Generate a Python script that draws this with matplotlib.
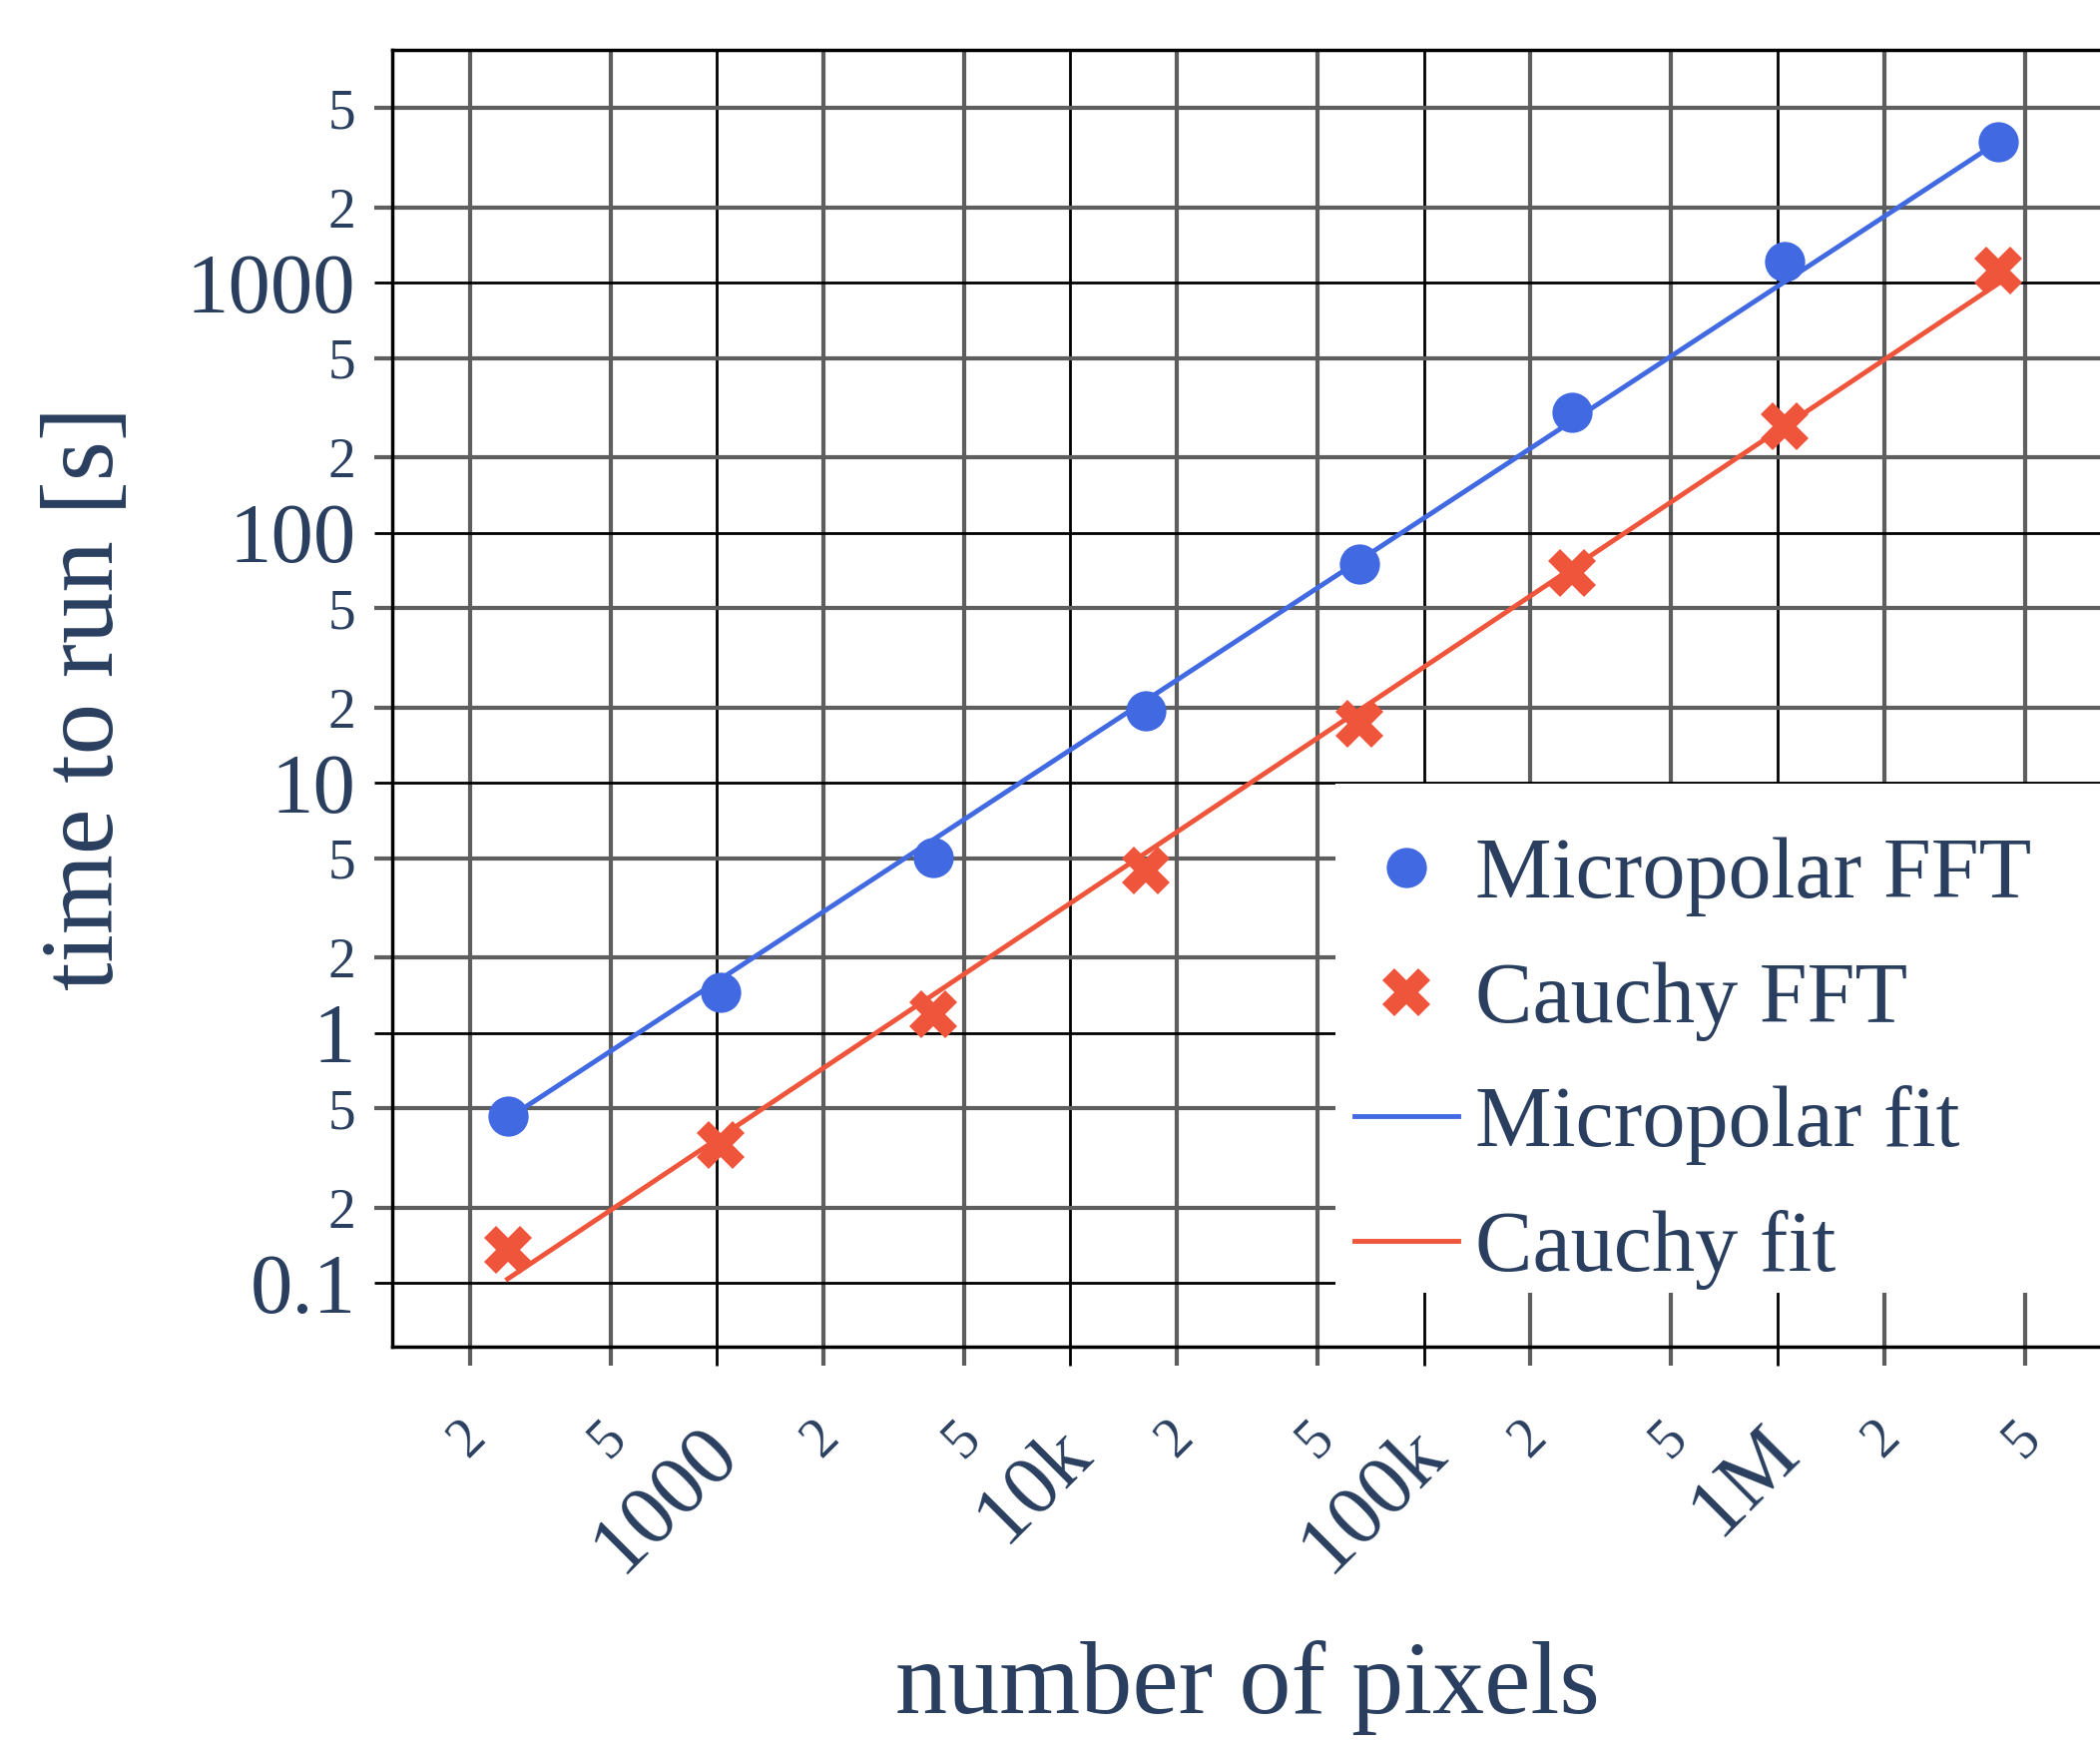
import matplotlib
matplotlib.use("Agg")
import matplotlib.pyplot as plt
from matplotlib.ticker import FixedLocator, NullFormatter, FixedFormatter
from matplotlib.transforms import ScaledTranslation
from matplotlib.patches import Rectangle

# ------------------------------------------------------------
# Data
# ------------------------------------------------------------
n_pixels = [256, 1024, 4096, 16384, 65536, 262144, 1048576, 4194304]
micropolar_fft = [0.467, 1.45, 5.05, 19.4, 75, 302, 1219, 3650]
cauchy_fft = [0.136, 0.356, 1.19, 4.46, 17.3, 68.9, 267, 1117]

# fit lines are straight in log-log, so two end points each
fit_x = [256, 4194304]
micropolar_fit = [0.455, 3650]
cauchy_fit = [0.104, 990]

x_major_ticks = [1e3, 1e4, 1e5, 1e6]
x_major_labels = ["1000", "10k", "100k", "1M"]
x_minor_ticks = [200, 500, 2e3, 5e3, 2e4, 5e4, 2e5, 5e5, 2e6, 5e6]
x_minor_labels = ["2", "5"] * 5

y_major_ticks = [0.1, 1, 10, 100, 1000]
y_major_labels = ["0.1", "1", "10", "100", "1000"]
y_minor_ticks = [0.2, 0.5, 2, 5, 20, 50, 200, 500, 2000, 5000]
y_minor_labels = ["2", "5"] * 5

# ------------------------------------------------------------
# Style
# ------------------------------------------------------------
plt.rcParams['font.family'] = ['Liberation Serif', 'DejaVu Serif']
text_color = "#2a3f5f"
blue = "#4169e1"
red = "#ef553b"
minor_grey = "#5e5e5e"

fig = plt.figure(figsize=(21.04, 17.43), dpi=100)
ax = fig.add_axes([0.1869, 0.2263, 0.828, 0.7452])
ax.set_xscale("log")
ax.set_yscale("log")
ax.set_xlim(121, 1e7)
ax.set_ylim(0.056, 8550)

# markers
ax.plot(n_pixels, micropolar_fft, linestyle="none", marker="o", markersize=29,
        color=blue, markeredgewidth=0, label="Micropolar FFT", zorder=4)
ax.plot(n_pixels, cauchy_fft, linestyle="none", marker="X", markersize=35,
        color=red, markeredgewidth=0, label="Cauchy FFT", zorder=4)
# fits
ax.plot(fit_x, micropolar_fit, color=blue, lw=3.5, label="Micropolar fit", zorder=3)
ax.plot(fit_x, cauchy_fit, color=red, lw=3.5, label="Cauchy fit", zorder=3)

# ------------------------------------------------------------
# Ticks and grid
# ------------------------------------------------------------
ax.xaxis.set_major_locator(FixedLocator(x_major_ticks))
ax.xaxis.set_minor_locator(FixedLocator(x_minor_ticks))
ax.xaxis.set_major_formatter(NullFormatter())
ax.xaxis.set_minor_formatter(NullFormatter())
ax.yaxis.set_major_locator(FixedLocator(y_major_ticks))
ax.yaxis.set_major_formatter(FixedFormatter(y_major_labels))
ax.yaxis.set_minor_locator(FixedLocator(y_minor_ticks))
ax.yaxis.set_minor_formatter(FixedFormatter(y_minor_labels))

ax.grid(which="major", color="black", lw=2.0)
ax.grid(which="minor", color=minor_grey, lw=3.0)
ax.set_axisbelow(True)

ax.tick_params(axis="y", which="major", length=13, width=2.0, color="black",
               labelsize=61, labelcolor=text_color, pad=13.5)
ax.tick_params(axis="y", which="minor", length=13, width=3.0, color=minor_grey,
               labelsize=40, labelcolor=text_color, pad=13.5)
ax.tick_params(axis="x", which="major", length=14, width=2.0, color="black")
ax.tick_params(axis="x", which="minor", length=14, width=3.0, color=minor_grey)

# rotated x tick labels, placed below the axis
xt = ax.get_xaxis_transform()
major_off = ScaledTranslation(6.5 / 72, -67.7 / 72, fig.dpi_scale_trans)
minor_off = ScaledTranslation(-1.5 / 72, -67 / 72, fig.dpi_scale_trans)
for xv, lab in zip(x_major_ticks, x_major_labels):
    ax.text(xv, 0, lab, transform=xt + major_off, rotation=45,
            rotation_mode="anchor", ha="right", va="center",
            fontsize=61, color=text_color, clip_on=False)
for xv, lab in zip(x_minor_ticks, x_minor_labels):
    ax.text(xv, 0, lab, transform=xt + minor_off, rotation=45,
            rotation_mode="anchor", ha="center", va="center",
            fontsize=40, color=text_color, clip_on=False)

for side in ["left", "bottom", "top"]:
    ax.spines[side].set_color("black")
    ax.spines[side].set_linewidth(2.5)
ax.spines["right"].set_visible(False)

# ------------------------------------------------------------
# Labels and legend
# ------------------------------------------------------------
fig.text(0.042, 0.599, "time to run [s]", rotation=90, ha="center", va="center",
         fontsize=74, color=text_color)
fig.text(0.594, 0.030, "number of pixels", ha="center", va="center",
         fontsize=75, color=text_color)

# white legend background (covers the grid)
ax.add_patch(Rectangle((0.636, 0.257), 0.364, 0.2926, transform=fig.transFigure,
                       facecolor="white", edgecolor="none", zorder=2, clip_on=False))

leg = ax.legend(loc="upper left", bbox_to_anchor=(0.645, 0.5187),
                bbox_transform=fig.transFigure, fontsize=62, frameon=False,
                borderpad=0, labelspacing=0.52, handlelength=1.21,
                handletextpad=0.2, borderaxespad=0, labelcolor=text_color)
leg.set_zorder(5)

fig.savefig("out.png", dpi=100)
